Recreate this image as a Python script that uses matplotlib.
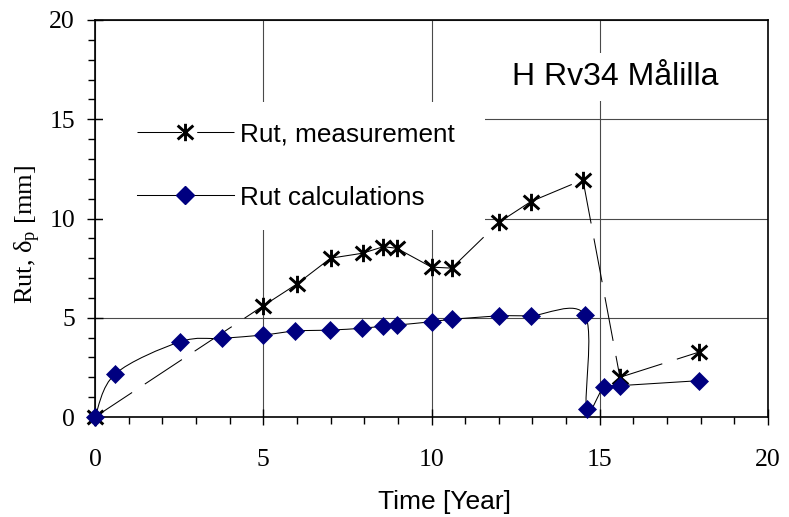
import numpy as np
import matplotlib
matplotlib.use('Agg')
import matplotlib.pyplot as plt
from matplotlib.path import Path
from matplotlib.patches import PathPatch, Rectangle
from matplotlib.lines import Line2D
from matplotlib.ticker import MultipleLocator

plt.rcParams['lines.scale_dashes'] = False
plt.rcParams['mathtext.fontset'] = 'custom'
plt.rcParams['mathtext.rm'] = 'Liberation Serif'
plt.rcParams['mathtext.it'] = 'Liberation Serif:italic'

# measured rut depth
time_meas = [0, 5.0, 6.0, 7.0, 7.95, 8.57, 8.97, 10.0, 10.6, 12.0, 12.95, 14.5, 15.6, 17.95]
rut_meas = [0, 5.6, 6.7, 8.0, 8.25, 8.58, 8.5, 7.55, 7.5, 9.8, 10.85, 11.95, 2.0, 3.27]

# calculated rut depth
time_calc = [0, 0.6, 2.53, 3.76, 5.0, 5.95, 6.98, 7.93, 8.57, 8.97, 10.0, 10.6, 12.0, 12.95,
             14.56, 14.61, 15.13, 15.6, 17.95]
rut_calc = [0, 2.17, 3.79, 3.96, 4.13, 4.33, 4.38, 4.47, 4.58, 4.63, 4.8, 4.92, 5.09, 5.1,
            5.14, 0.39, 1.53, 1.58, 1.83]

title = 'H Rv34 Målilla'
x_ticks = [0, 5, 10, 15, 20]
y_ticks = [0, 5, 10, 15, 20]

navy = '#000080'
dash = (32, 11)


def smooth_path(xs, ys):
    # excel style smoothed line (bezier through the points)
    pts = np.column_stack([xs, ys]).astype(float)
    n = len(pts)
    verts = [pts[0]]
    codes = [Path.MOVETO]
    for i in range(n - 1):
        p0 = pts[max(i - 1, 0)]
        p1 = pts[i]
        p2 = pts[i + 1]
        p3 = pts[min(i + 2, n - 1)]
        c1 = p1 + (p2 - p0) / 6
        c2 = p2 - (p3 - p1) / 6
        verts += [c1, c2, p2]
        codes += [Path.CURVE4] * 3
    return Path(verts, codes)


star = Path([(0, -1), (0, 1), (-0.9, -0.8), (0.9, 0.8), (-0.9, 0.8), (0.9, -0.8)],
            [Path.MOVETO, Path.LINETO] * 3)

fig = plt.figure(figsize=(7.89, 5.17), dpi=100)
ax = fig.add_axes([95 / 789, 100 / 517, 673 / 789, 397 / 517])

ax.set_xlim(0, 20)
ax.set_ylim(0, 20)
ax.set_xticks(x_ticks)
ax.set_yticks(y_ticks)
ax.xaxis.set_minor_locator(MultipleLocator(1))
ax.yaxis.set_minor_locator(MultipleLocator(1))
ax.grid(True, which='major', color='#4a4a4a', lw=0.8)

for s in ax.spines.values():
    s.set_linewidth(1.2)

ax.tick_params(which='major', direction='inout', length=11.5, width=1.0, color='black')
ax.tick_params(which='minor', direction='out', length=5, width=1.0, color='black')
ax.tick_params(axis='y', which='major', pad=8.6)
ax.tick_params(axis='x', which='major', pad=17.5)
for lab in ax.get_xticklabels() + ax.get_yticklabels():
    lab.set_fontfamily('Liberation Serif')
    lab.set_fontsize(18.5)

# white box behind the legend
ax.add_patch(Rectangle((8 / 673, 187 / 397), 382 / 673, 128 / 397, transform=ax.transAxes,
                       fc='white', ec='none', zorder=1.8))

# measurement: straight segments, long dash restarting at each point
for i in range(len(time_meas) - 1):
    ax.plot(time_meas[i:i + 2], rut_meas[i:i + 2], color='black', lw=0.75, dashes=dash,
            zorder=2, clip_on=False)
ax.plot(time_meas, rut_meas, ls='none', marker=star, ms=12.5, mew=2.1, mec='black',
        zorder=3, clip_on=False)

# calculations: smoothed line with diamonds
ax.add_patch(PathPatch(smooth_path(time_calc, rut_calc), fc='none', ec='black', lw=0.75,
                       zorder=2.1, clip_on=False))
ax.plot(time_calc, rut_calc, ls='none', marker='D', ms=9.5, mfc=navy, mec=navy, mew=0.5,
        zorder=3.1, clip_on=False)

h_meas = Line2D([], [], color='black', lw=0.75, dashes=dash, marker=star, ms=12.5, mew=2.1,
                mec='black')
h_calc = Line2D([], [], color='black', lw=0.75, marker='D', ms=9.5, mfc=navy, mec=navy)
ax.legend([h_meas, h_calc], ['Rut, measurement', 'Rut calculations'],
          loc='center left', bbox_to_anchor=(42 / 673, 251 / 397), borderaxespad=0,
          borderpad=0, frameon=False, handlelength=3.7, handletextpad=0.24,
          labelspacing=1.5, prop={'family': 'Liberation Sans', 'size': 18.8})

ax.text(15.45, 17.13, title, ha='center', va='center', fontsize=23,
        family='Liberation Sans', zorder=4,
        bbox=dict(fc='white', ec='none', pad=6.5))

ax.set_xlabel('Time [Year]', family='Liberation Sans', fontsize=19, va='center')
ax.xaxis.set_label_coords(349 / 673, -85 / 397)
ax.set_ylabel(r'Rut, $\mathrm{\delta_p}$ [mm]', family='Liberation Serif', fontsize=19,
              va='center', ha='center')
ax.yaxis.set_label_coords(-67 / 673, 182 / 397)

fig.savefig('out.png', dpi=100)
